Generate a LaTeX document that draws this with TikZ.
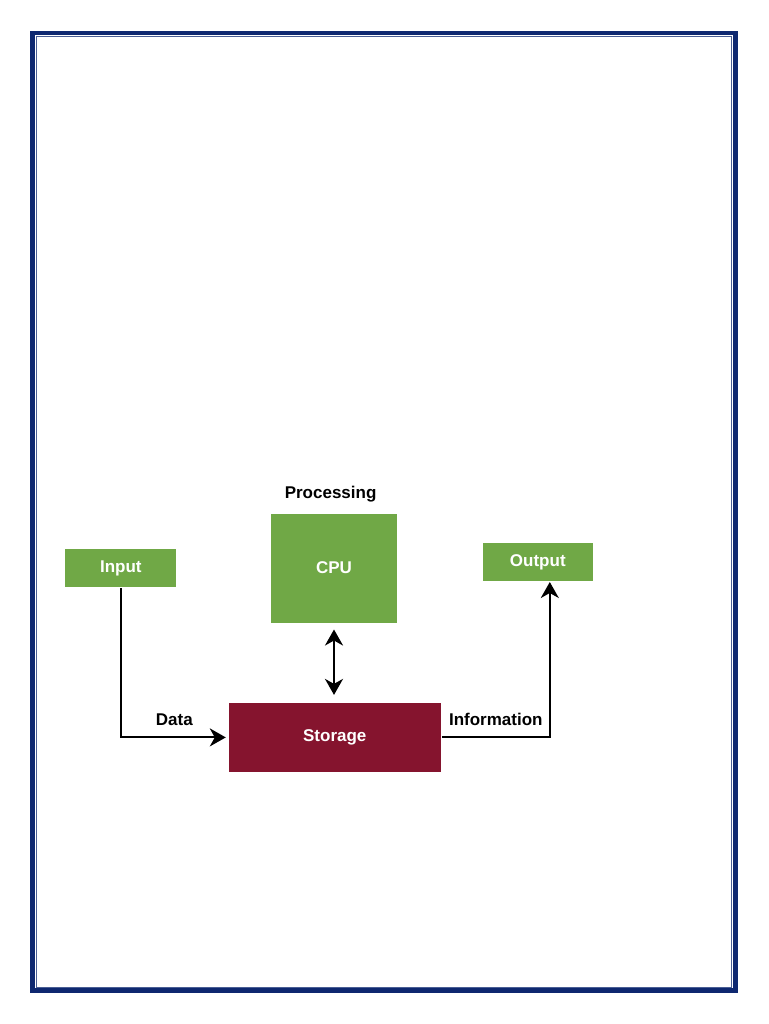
\documentclass[tikz,border=0pt]{standalone}
\usepackage{fontspec}
\setmainfont{Liberation Sans}
\usetikzlibrary{arrows.meta}
\definecolor{verde}{RGB}{112,168,70}
\definecolor{granate}{RGB}{133,20,46}
\definecolor{marino}{RGB}{14,40,112}

\begin{document}
\begin{tikzpicture}[x=1pt,y=-1pt,line width=2pt,>={Stealth[length=16pt,width=18pt,inset=5pt]},
  caja/.style={fill=#1,text=white,inner sep=0pt,font=\bfseries\fontsize{17}{20}\selectfont},
  etiq/.style={font=\bfseries\fontsize{17}{20}\selectfont}]
  \useasboundingbox (0,0) rectangle (768,1024);
  % marco doble
  \draw[marino,line width=4.5pt] (32.5,33) rectangle (735.3,990.7);
  \draw[marino!75,line width=1pt] (36.5,36.5) rectangle (731,987);
  % bloques
  \node[caja=verde,minimum width=111pt,minimum height=38pt] (inp) at (120.8,568) {Input};
  \node[caja=verde,minimum width=126pt,minimum height=109pt] (cpu) at (334,568) {CPU};
  \node[caja=verde,minimum width=110pt,minimum height=38pt] (out) at (537.8,562) {Output};
  \node[caja=granate,minimum width=212pt,minimum height=69pt] (sto) at (334.8,737.4) {Storage};
  \node[etiq] (proc) at (330.6,494) {Processing};
  % flechas
  \draw[->,shorten >=2pt] (inp.south) |- (sto.west) node[pos=0.75,above=7pt,etiq] (dat) {Data};
  \draw[->] (sto.east) -| ([xshift=12pt]out.south) node[pos=0.25,above=7pt,etiq] (inf) {Information};
  \draw[<->,line width=2.4pt,shorten <=6pt,shorten >=7pt] (cpu.south) -- (cpu.south |- sto.north);
\end{tikzpicture}
\end{document}
